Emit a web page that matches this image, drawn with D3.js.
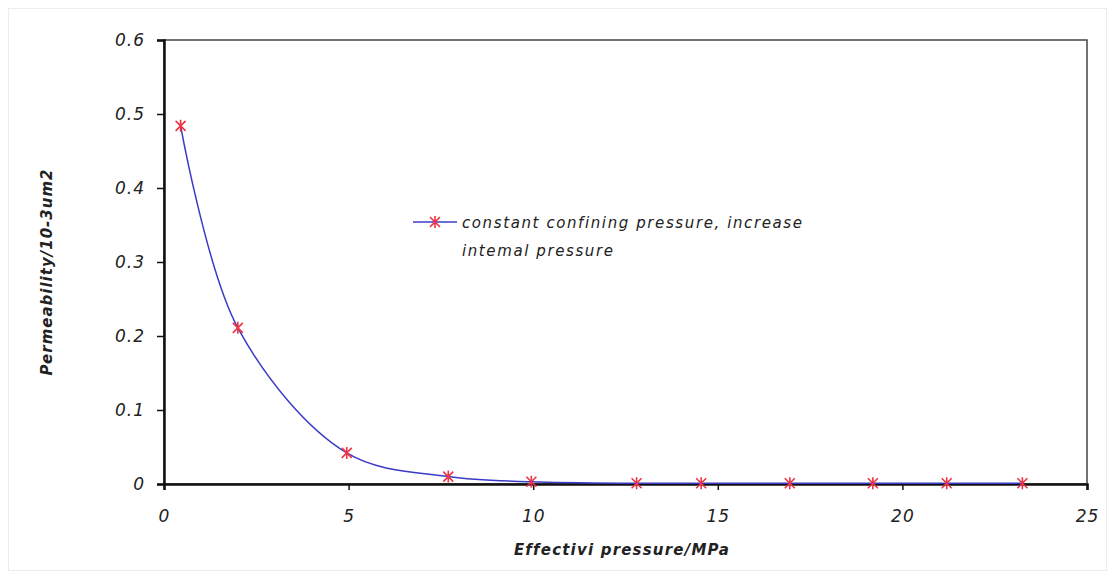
<!DOCTYPE html>
<html>
<head>
<meta charset="utf-8">
<script src="https://cdn.jsdelivr.net/npm/d3@7"></script>
<style>
  body { margin: 0; background: #fff; }
  svg { display: block; }
  text { font-family: "DejaVu Sans", sans-serif; font-style: italic; fill: #222; }
</style>
</head>
<body>
<div id="chart"></div>
<script>
// values
var pressure = [0.45, 2.0, 4.95, 7.7, 9.95, 12.8, 14.55, 16.95, 19.2, 21.2, 23.25];
var permeability = [0.484, 0.211, 0.042, 0.010, 0.003, 0.001, 0.001, 0.001, 0.001, 0.001, 0.001];
var xTicks = [0, 5, 10, 15, 20, 25];
var yTicks = [0, 0.1, 0.2, 0.3, 0.4, 0.5, 0.6];
var seriesName = ['constant confining pressure, increase', 'intemal pressure'];

var width = 1115, height = 574;
var margin = {left: 164, right: 28, top: 40, bottom: 90};

var svg = d3.select('#chart').append('svg')
  .attr('width', width)
  .attr('height', height);

// faint outer border of the picture
svg.append('rect').attr('x', 8.5).attr('y', 8.5).attr('width', width - 17).attr('height', 562)
  .style('fill', 'none').style('stroke', '#ececec').style('stroke-width', 1);

var x = d3.scaleLinear().domain([0, 25]).range([margin.left, width - margin.right]);
var y = d3.scaleLinear().domain([0, 0.6]).range([height - margin.bottom, margin.top]);

// plot frame (top + right)
svg.append('rect')
  .attr('x', x(0)).attr('y', y(0.6))
  .attr('width', x(25) - x(0)).attr('height', y(0) - y(0.6))
  .style('fill', 'none').style('stroke', '#444').style('stroke-width', 1.5);

var xAxis = svg.append('g')
  .attr('transform', 'translate(0,' + y(0) + ')')
  .call(d3.axisBottom(x).tickValues(xTicks).tickSize(6).tickFormat(d3.format('d')));
xAxis.select('.domain').attr('stroke', '#111').attr('stroke-width', 2.5);
xAxis.selectAll('.tick line').attr('stroke', '#111').attr('stroke-width', 1.5);
xAxis.selectAll('.tick text').attr('y', 26).attr('dy', '0.71em');

var yAxis = svg.append('g')
  .attr('transform', 'translate(' + x(0) + ',0)')
  .call(d3.axisLeft(y).tickValues(yTicks).tickSize(7).tickFormat(function(d) { return d === 0 ? '0' : d3.format('.1f')(d); }));
yAxis.select('.domain').attr('stroke', '#111').attr('stroke-width', 2.5);
yAxis.selectAll('.tick line').attr('stroke', '#111').attr('stroke-width', 1.5);
yAxis.selectAll('.tick text').attr('x', -19);
svg.selectAll('.tick text')
  .style('font-family', '"DejaVu Sans", sans-serif').style('font-style', 'italic')
  .style('font-size', '17px').style('letter-spacing', '1px').attr('fill', '#222');

// axis titles
svg.append('text')
  .attr('x', 622).attr('y', 555)
  .attr('text-anchor', 'middle')
  .style('font-size', '15px')
  .style('font-weight', 'bold')
  .style('letter-spacing', '1.2px')
  .text('Effectivi pressure/MPa');

svg.append('text')
  .attr('transform', 'translate(52,' + 272 + ') rotate(-90)')
  .attr('text-anchor', 'middle')
  .style('font-size', '15px')
  .style('font-weight', 'bold')
  .style('letter-spacing', '1px')
  .text('Permeability/10-3um2');

// curve
var pts = pressure.map(function(p, i) { return [p, permeability[i]]; });
var line = d3.line()
  .x(function(d) { return x(d[0]); })
  .y(function(d) { return y(d[1]); })
  .curve(d3.curveCatmullRom.alpha(0.5));

svg.append('path')
  .datum(pts)
  .attr('d', line)
  .style('fill', 'none').style('stroke', '#3b3bc8').style('stroke-width', 1.5);

// asterisk markers
var star = 'M-5,-5L5,5M-5,5L5,-5M0,-6L0,6';
svg.selectAll('path.mark').data(pts)
  .enter().append('path')
  .attr('class', 'mark')
  .attr('d', star)
  .attr('transform', function(d) { return 'translate(' + x(d[0]) + ',' + y(d[1]) + ')'; })
  .style('stroke', '#ee3344').style('stroke-width', 1.6).style('fill', 'none');

// legend
var lg = svg.append('g').attr('transform', 'translate(413,222)');
lg.append('line').attr('x1', 0).attr('x2', 44).attr('y1', 0).attr('y2', 0)
  .style('stroke', '#3b3bc8').style('stroke-width', 1.5);
lg.append('path').attr('d', star).attr('transform', 'translate(22,0)')
  .style('stroke', '#ee3344').style('stroke-width', 1.6).style('fill', 'none');
lg.selectAll('text.lab').data(seriesName)
  .enter().append('text')
  .attr('class', 'lab')
  .attr('x', 49)
  .attr('y', function(d, i) { return 6 + i * 28; })
  .style('font-size', '15px')
  .style('letter-spacing', '1.6px')
  .text(function(d) { return d; });
</script>
</body>
</html>
